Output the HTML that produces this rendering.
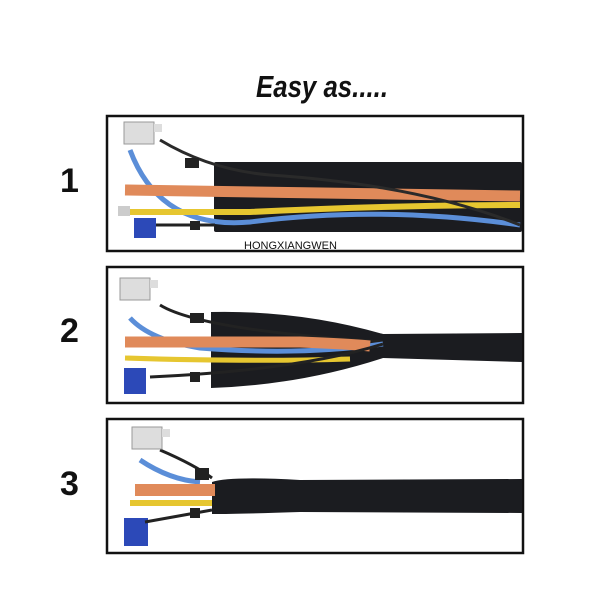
<!DOCTYPE html>
<html><head><meta charset="utf-8"><style>
html,body{margin:0;padding:0;background:#fff;}
svg{display:block}
</style></head><body>
<svg width="600" height="600" viewBox="0 0 600 600" xmlns="http://www.w3.org/2000/svg">
<rect width="600" height="600" fill="#fff"/>
<text x="322" y="97" text-anchor="middle" font-family="Liberation Sans, sans-serif" font-style="italic" font-weight="bold" font-size="31" fill="#111" textLength="132" lengthAdjust="spacingAndGlyphs">Easy as.....</text>

<g font-family="Liberation Sans, sans-serif" font-weight="bold" font-size="34" fill="#111">
<text x="60" y="192">1</text><text x="60" y="342">2</text><text x="60" y="495">3</text>
</g>

<!-- Box 1 -->
<rect x="107" y="116" width="416" height="135" fill="#fff" stroke="#111" stroke-width="2.5"/>
<rect x="214" y="162" width="308" height="70" fill="#1b1c20" rx="2"/>
<path d="M130 150 Q160 230 250 222 Q380 205 520 225" stroke="#5b8ed8" stroke-width="5" fill="none"/>
<path d="M125 190 L520 196" stroke="#e08a5a" stroke-width="11" fill="none"/>
<path d="M125 212 L250 212 Q400 205 520 205" stroke="#e6c630" stroke-width="6" fill="none"/>
<path d="M160 140 Q210 170 270 175 Q420 185 520 225" stroke="#2a2a2a" stroke-width="3" fill="none"/>
<path d="M150 225 L215 225" stroke="#222" stroke-width="3"/>
<rect x="185" y="158" width="14" height="10" fill="#222"/>
<rect x="190" y="221" width="10" height="9" fill="#222"/>
<rect x="124" y="122" width="30" height="22" fill="#ddd" stroke="#999"/>
<rect x="154" y="124" width="8" height="8" fill="#ddd"/>
<rect x="134" y="218" width="22" height="20" fill="#2c49b8"/>
<rect x="118" y="206" width="12" height="10" fill="#ccc"/>
<text x="244" y="249" font-family="Liberation Sans, sans-serif" font-size="11" fill="#111">HONGXIANGWEN</text>

<!-- Box 2 -->
<rect x="107" y="267" width="416" height="136" fill="#fff" stroke="#111" stroke-width="2.5"/>
<path d="M211 312 Q300 310 383 334 L522 333 L522 362 L383 358 Q300 385 211 388 Z" fill="#1b1c20"/>
<path d="M160 305 Q200 330 383 342" stroke="#222" stroke-width="3" fill="none"/>
<path d="M130 318 Q150 340 200 348 Q300 356 383 344" stroke="#5b8ed8" stroke-width="5" fill="none"/>
<path d="M125 342 L300 342 Q350 344 370 346" stroke="#e08a5a" stroke-width="11" fill="none"/>
<path d="M125 358 Q250 362 350 359" stroke="#e6c630" stroke-width="5" fill="none"/>
<path d="M150 377 Q300 370 383 344" stroke="#222" stroke-width="3" fill="none"/>
<rect x="190" y="313" width="14" height="10" fill="#222"/>
<rect x="190" y="372" width="10" height="10" fill="#222"/>
<rect x="120" y="278" width="30" height="22" fill="#ddd" stroke="#999"/>
<rect x="150" y="280" width="8" height="8" fill="#ddd"/>
<rect x="124" y="368" width="22" height="26" fill="#2c49b8"/>

<!-- Box 3 -->
<rect x="107" y="419" width="416" height="134" fill="#fff" stroke="#111" stroke-width="2.5"/>
<path d="M160 450 Q195 465 212 478" stroke="#222" stroke-width="3" fill="none"/>
<path d="M140 460 Q170 480 200 482" stroke="#5b8ed8" stroke-width="5" fill="none"/>
<rect x="195" y="468" width="14" height="12" fill="#222"/>
<path d="M212 482 Q230 476 300 480 L522 479 L522 513 L300 512 Q240 514 212 514 Z" fill="#1b1c20"/>
<rect x="135" y="484" width="80" height="12" fill="#e08a5a"/>
<rect x="130" y="500" width="82" height="6" fill="#e6c630"/>
<rect x="132" y="427" width="30" height="22" fill="#ddd" stroke="#999"/>
<rect x="162" y="429" width="8" height="8" fill="#ddd"/>
<rect x="124" y="518" width="24" height="28" fill="#2c49b8"/>
<path d="M145 522 L212 510" stroke="#222" stroke-width="3"/>
<rect x="190" y="508" width="10" height="10" fill="#222"/>
</svg>
</body></html>
